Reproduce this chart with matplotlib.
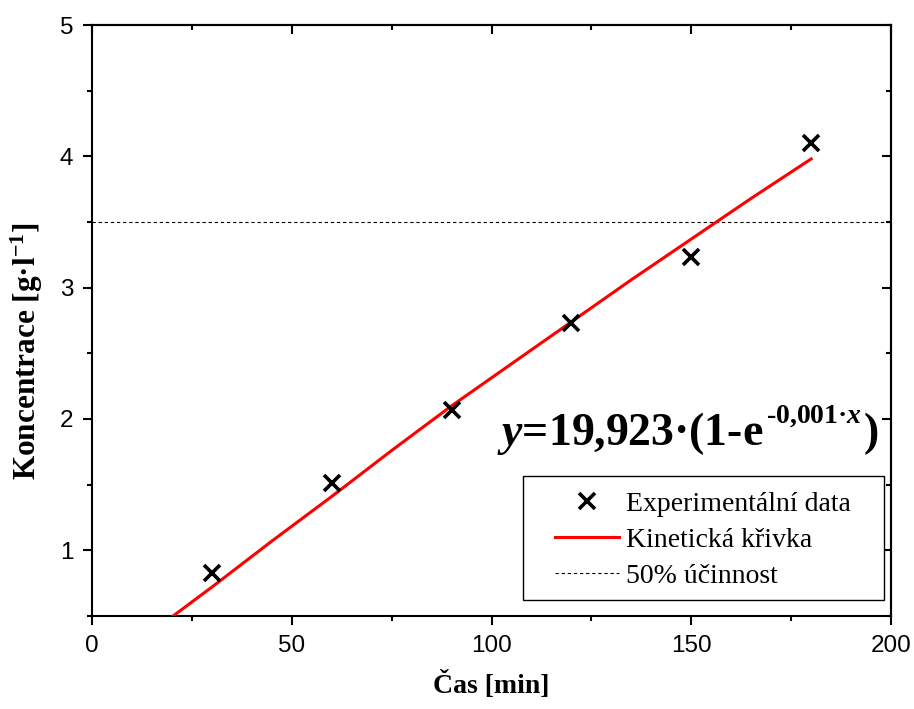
import matplotlib
matplotlib.use("Agg")
import matplotlib.pyplot as plt
from matplotlib.ticker import MultipleLocator
from matplotlib.patches import Rectangle
from matplotlib.transforms import IdentityTransform

plt.rcParams["mathtext.fontset"] = "custom"
plt.rcParams["mathtext.rm"] = "Liberation Serif:bold"
plt.rcParams["mathtext.it"] = "Liberation Serif:bold:italic"
plt.rcParams["mathtext.bf"] = "Liberation Serif:bold"

# Measured concentrations
time_min = [30, 60, 90, 120, 150, 180]
conc = [0.83, 1.51, 2.07, 2.73, 3.23, 4.10]

# Fitted kinetic curve
curve_t = [20.3, 30, 45, 60, 75, 90, 105, 120, 135, 150, 165, 180]
curve_c = [0.50, 0.72, 1.07, 1.41, 1.76, 2.10, 2.42, 2.74, 3.06, 3.37, 3.68, 3.98]

# 50 % efficiency level
half_level = 3.5

x_ticks = [0, 50, 100, 150, 200]
y_ticks = [1, 2, 3, 4, 5]

fig = plt.figure(figsize=(9.14, 7.09), dpi=100)
ax = fig.add_axes([0.1007, 0.1312, 0.8741, 0.8335])

ax.plot(time_min, conc, linestyle="none", marker="x", color="black",
        markersize=11, markeredgewidth=2.6, label="Experimentální data", zorder=4)
ax.plot(curve_t, curve_c, color="red", linewidth=2.2, label="Kinetická křivka", zorder=3)
ax.axhline(half_level, color="black", linewidth=0.8, linestyle=(0, (3, 2.5)),
           label="50% účinnost", zorder=2)

ax.set_xlim(0, 200)
ax.set_ylim(0.5, 5)
ax.set_xticks(x_ticks)
ax.set_yticks(y_ticks)
ax.xaxis.set_minor_locator(MultipleLocator(25))
ax.yaxis.set_minor_locator(MultipleLocator(0.5))

for s in ax.spines.values():
    s.set_linewidth(1.5)

ax.tick_params(which="both", direction="out", top=False, right=False, width=1.5,
               labelsize=17.5, pad=7)
ax.tick_params(which="major", length=6.5)
ax.tick_params(which="minor", length=3.5)
for lab in ax.get_xticklabels() + ax.get_yticklabels():
    lab.set_fontfamily("Liberation Sans")

# mirrored inward ticks on top and right
top = ax.secondary_xaxis("top")
top.set_xticks(x_ticks)
top.xaxis.set_minor_locator(MultipleLocator(25))
top.tick_params(which="both", direction="in", labeltop=False, width=1.5)
top.tick_params(which="major", length=6.5)
top.tick_params(which="minor", length=3.5)
top.spines["top"].set_linewidth(1.5)

right = ax.secondary_yaxis("right")
right.set_yticks(y_ticks)
right.yaxis.set_minor_locator(MultipleLocator(0.5))
right.tick_params(which="both", direction="in", labelright=False, width=1.5)
right.tick_params(which="major", length=6.5)
right.tick_params(which="minor", length=3.5)
right.spines["right"].set_linewidth(1.5)

ax.set_xlabel("Čas [min]", fontfamily="Liberation Serif", fontweight="bold",
              fontsize=20, labelpad=10)
ax.set_ylabel(r"Koncentrace [g·l$^{\mathrm{-1}}$]", fontfamily="Liberation Serif",
              fontweight="bold", fontsize=22.5)
ax.yaxis.set_label_coords(-0.059, 0.448)

# fit equation, built from base text, raised exponent and closing bracket
eq_font = dict(fontfamily="Liberation Serif", fontweight="bold", zorder=5)
eq_x, eq_y = 101.4, 1.80
base = ax.text(eq_x, eq_y, r"$\mathit{y}$=19,923·(1-e", fontsize=33,
               ha="left", va="baseline", **eq_font)
fig.canvas.draw()
renderer = fig.canvas.get_renderer()
bb_base = base.get_window_extent(renderer)
base_px = ax.transData.transform((eq_x, eq_y))
expo = ax.text(bb_base.x1 + 2, base_px[1] + 23, "\u20100,001·$\\mathit{x}$",
               fontsize=20, ha="left", va="baseline", transform=IdentityTransform(),
               **eq_font)
bb_expo = expo.get_window_extent(renderer)
ax.text(bb_expo.x1 + 2, base_px[1], ")", fontsize=33, ha="left", va="baseline",
        transform=IdentityTransform(), **eq_font)

# legend frame and entries
ax.add_patch(Rectangle((0.539, 0.027), 0.452, 0.210, transform=ax.transAxes,
                       facecolor="white", edgecolor="black", linewidth=1.0, zorder=6))
leg = ax.legend(loc="center left", bbox_to_anchor=(0.5795, 0.1286), borderaxespad=0,
                borderpad=0, prop={"family": "Liberation Serif", "size": 20},
                frameon=False, handlelength=2.3, labelspacing=0.38, handletextpad=0.25)
leg.set_zorder(7)

fig.savefig("out.png", dpi=100)
